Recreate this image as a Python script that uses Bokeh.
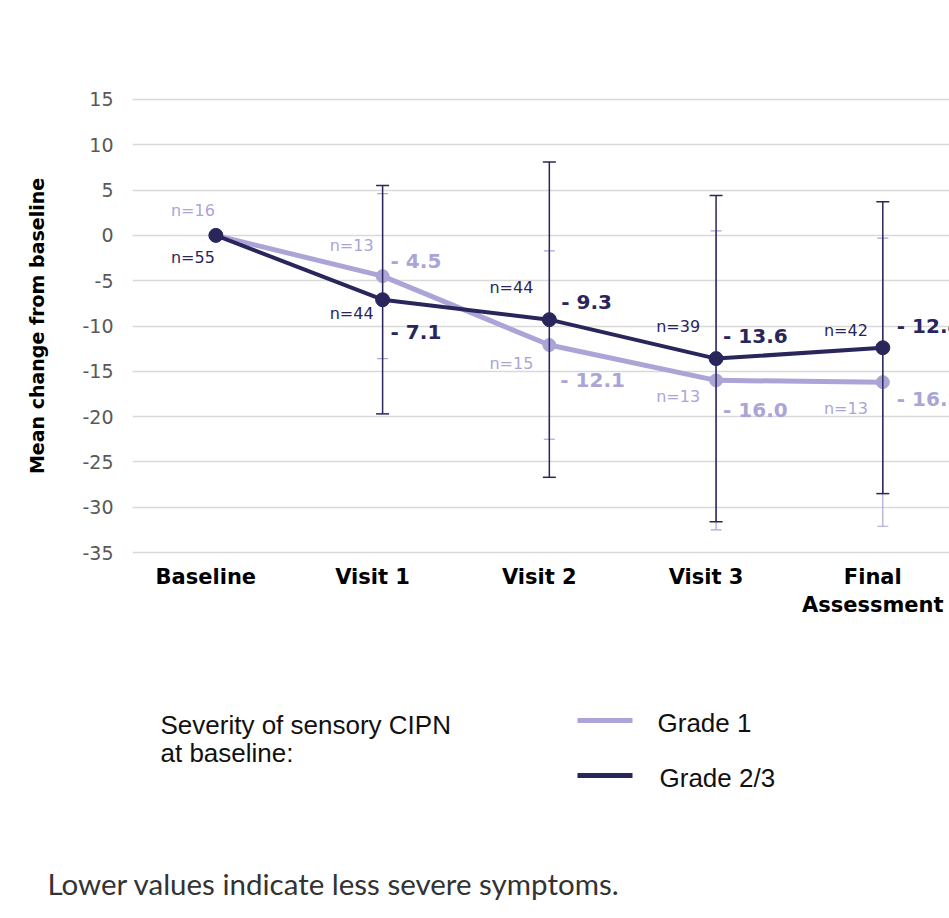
from bokeh.plotting import figure
from bokeh.models import Range1d, FixedTicker, ColumnDataSource, Label
from bokeh.layouts import column
from bokeh.core.properties import value
from bokeh.embed import file_html
from bokeh.resources import INLINE

# ---------------- data ----------------
categories = ["Baseline", "Visit 1", "Visit 2", "Visit 3", "Final\nAssessment"]
grade1_mean = [0.0, -4.5, -12.1, -16.0, -16.2]
grade1_sd = [0.0, 9.1, 10.4, 16.5, 15.9]
grade1_n = [16, 13, 15, 13, 13]
grade23_mean = [0.0, -7.1, -9.3, -13.6, -12.4]
grade23_sd = [0.0, 12.6, 17.4, 18.0, 16.1]
grade23_n = [55, 44, 44, 39, 42]
y_ticks = [-35, -30, -25, -20, -15, -10, -5, 0, 5, 10, 15]
series_names = ["Grade  1", "Grade 2/3"]
legend_title = ["Severity of sensory CIPN", "at baseline:"]
footnote = "Lower values indicate less severe symptoms."

# label offsets (screen px) relative to each point
g1_n_dx = [-1, -9, -16, -16, -15]
g1_n_dy = [-25, -31, 18, 16, 26]
g23_n_dx = [-1, -9, -16, -16, -15]
g23_n_dy = [22, 14, -32, -32, -17]
g1_v_dx = [0, 8, 11, 7, 14]
g1_v_dy = [0, -15, 35, 30, 17]
g23_v_dx = [0, 8, 12, 7, 14]
g23_v_dy = [0, 32, -18, -23, -22]

LIGHT = "#aaa5d6"
DARK = "#29265b"
FONT = "DejaVu Sans"
LABEL_SHIFT = 0.06   # category labels sit slightly left of the points

xs = list(range(len(categories)))

# ---------------- chart ----------------
W = 949
H1 = 632
FL, FT, FB = 132, 97, 554          # frame left / top / bottom (px)
X0, X1 = -0.5, 4.4
Y0, Y1 = -35.22, 15.22

p = figure(width=W, height=H1, output_backend="svg", toolbar_location=None,
           x_range=Range1d(X0, X1), y_range=Range1d(Y0, Y1),
           min_border_left=FL, min_border_right=0, min_border_top=FT,
           min_border_bottom=H1 - FB)
p.outline_line_color = None
p.background_fill_color = "white"
p.border_fill_color = "white"
p.xgrid.grid_line_color = None
p.ygrid.ticker = FixedTicker(ticks=y_ticks)
p.ygrid.grid_line_color = "#d9d9d9"
p.ygrid.grid_line_width = 1.5

p.yaxis.ticker = FixedTicker(ticks=y_ticks)
p.yaxis.major_label_overrides = {t: str(t) for t in y_ticks}
x_ticks = [i - LABEL_SHIFT for i in xs]
p.xaxis.ticker = FixedTicker(ticks=x_ticks)
p.xaxis.major_label_overrides = {t: c for t, c in zip(x_ticks, categories)}
for ax in (p.xaxis[0], p.yaxis[0]):
    ax.axis_line_color = None
    ax.major_tick_line_color = None
    ax.minor_tick_line_color = None
    ax.major_tick_in = 0
    ax.major_tick_out = 0
p.yaxis.major_label_text_font = FONT
p.yaxis.major_label_text_font_size = "19px"
p.yaxis.major_label_text_color = "#595959"
p.yaxis.major_label_standoff = 19
p.yaxis.axis_label = "Mean change from baseline"
p.yaxis.axis_label_text_font = FONT
p.yaxis.axis_label_text_font_style = "bold"
p.yaxis.axis_label_text_font_size = "19px"
p.yaxis.axis_label_text_color = "black"
p.yaxis.axis_label_standoff = 31
p.xaxis.major_label_text_font = FONT
p.xaxis.major_label_text_font_style = "bold"
p.xaxis.major_label_text_font_size = "21px"
p.xaxis.major_label_text_color = "black"
p.xaxis.major_label_standoff = 10


def error_bars(mean, sd, color, width, cap):
    idx = [i for i in xs if sd[i] > 0]
    bx = [xs[i] for i in idx]
    up = [mean[i] + sd[i] for i in idx]
    lo = [mean[i] - sd[i] for i in idx]
    p.segment(x0=bx, y0=lo, x1=bx, y1=up, line_color=color, line_width=width)
    p.scatter(x=bx + bx, y=up + lo, marker="dash", size=cap,
              line_color=color, line_width=width)


def series(mean, color, lw, ms):
    r = p.line(x=xs, y=mean, line_color=color, line_width=lw)
    p.scatter(x=xs, y=mean, size=ms, fill_color=color, line_color=color)
    return r


def labels(mean, n, ndx, ndy, vdx, vdy, color):
    src_n = ColumnDataSource(dict(x=xs, y=mean, t=[f"n={k}" for k in n],
                                  dx=ndx, dy=ndy))
    p.text(x="x", y="y", text="t", x_offset="dx", y_offset="dy", source=src_n,
           text_align="right", text_baseline="middle",
           text_font=value(FONT), text_font_size="16px", text_color=color)
    idx = [i for i in xs if i > 0]
    src_v = ColumnDataSource(dict(
        x=[xs[i] for i in idx], y=[mean[i] for i in idx],
        t=[f"- {abs(mean[i]):.1f}" for i in idx],
        dx=[vdx[i] for i in idx], dy=[vdy[i] for i in idx]))
    p.text(x="x", y="y", text="t", x_offset="dx", y_offset="dy", source=src_v,
           text_align="left", text_baseline="middle",
           text_font=value(FONT), text_font_style="bold",
           text_font_size="20px", text_color=color)


error_bars(grade1_mean, grade1_sd, LIGHT, 1.2, 11)
series(grade1_mean, LIGHT, 5, 13)
error_bars(grade23_mean, grade23_sd, DARK, 1.5, 13)
series(grade23_mean, DARK, 4, 14)
labels(grade1_mean, grade1_n, g1_n_dx, g1_n_dy, g1_v_dx, g1_v_dy, LIGHT)
labels(grade23_mean, grade23_n, g23_n_dx, g23_n_dy, g23_v_dx, g23_v_dy, DARK)

# ---------------- legend + footnote (pixel-space panel) ----------------
H2 = 268
q = figure(width=W, height=H2, output_backend="svg", toolbar_location=None,
           x_range=Range1d(0, W), y_range=Range1d(H1 + H2, H1), min_border=0,
           x_axis_location=None, y_axis_location=None)
q.frame_align = False
p.frame_align = False
q.grid.visible = False
q.outline_line_color = None
q.background_fill_color = "white"
q.border_fill_color = "white"

legend_colors = [LIGHT, DARK]
sw_y = [720, 775]
q.segment(x0=[577, 577], x1=[632, 632], y0=sw_y, y1=sw_y,
          line_color=legend_colors, line_width=5)
for name, xx, yy in zip(series_names, [657, 659], [722, 777]):
    q.add_layout(Label(x=xx, y=yy, text=name, text_baseline="middle",
                       text_align="left", text_font="Liberation Sans",
                       text_font_size="26px", text_color="#111111"))
for txt, yy in zip(legend_title, [724, 752]):
    q.add_layout(Label(x=160, y=yy, text=txt, text_baseline="middle",
                       text_align="left", text_font="Liberation Sans",
                       text_font_size="26px", text_color="#111111"))
q.add_layout(Label(x=47, y=883, text=footnote,
                   text_baseline="middle", text_align="left", text_font="Lato",
                   text_font_size="29.5px", text_color="#333333"))

layout = column(p, q, spacing=0)
open("out.html", "w").write(file_html(layout, INLINE))
